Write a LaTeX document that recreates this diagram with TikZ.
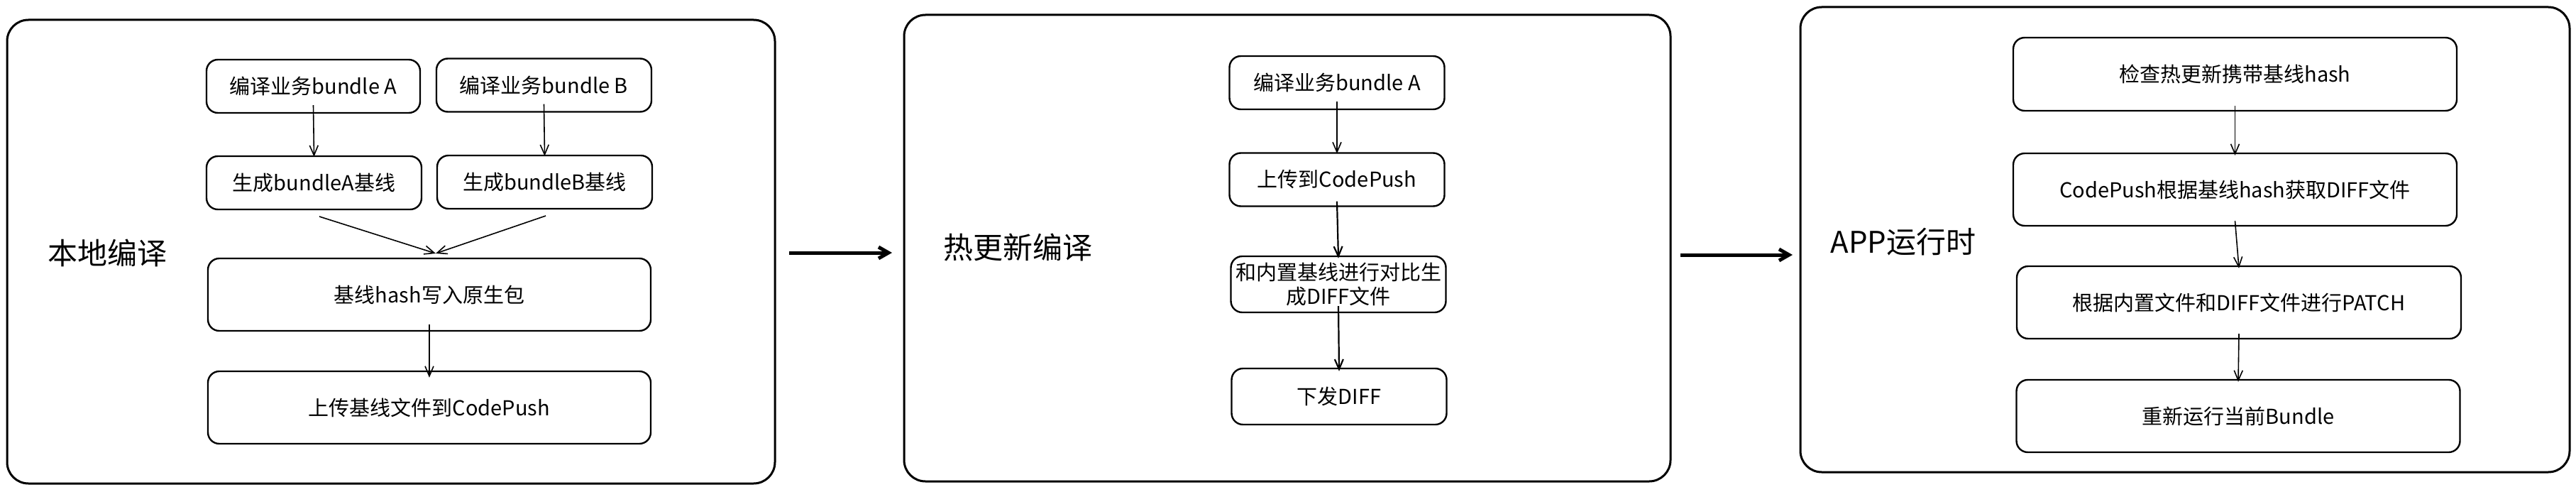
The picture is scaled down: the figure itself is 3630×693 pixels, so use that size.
\documentclass[tikz,border=0pt]{standalone}
\usepackage{fontspec}
\setmainfont{Noto Sans CJK SC}
\usetikzlibrary{arrows.meta}
\begin{document}
\begin{tikzpicture}[x=1pt,y=-1pt,
  panel/.style={draw,line width=3pt,rounded corners=30pt},
  stepbox/.style={draw,line width=2.4pt,rounded corners=16pt,font=\fontsize{29}{34}\selectfont,align=center,inner sep=2pt},
  title/.style={font=\fontsize{42}{48}\selectfont,anchor=west},
  arr/.style={-{Straight Barb[length=14pt,width=12pt]},line width=1.6pt},
  bigarr/.style={-{Straight Barb[length=14pt,width=16pt]},line width=5pt}]
\useasboundingbox (0,0) rectangle (3630,693);
% panel 1
\draw[panel] (10,28) rectangle (1092,681);
\node[title] (t1) at (64,356) {本地编译};
\node[stepbox,minimum width=301pt,minimum height=75pt] (a1) at (441.5,121.5) {编译业务bundle A};
\node[stepbox,minimum width=303pt,minimum height=75pt] (b1) at (766.5,120) {编译业务bundle B};
\node[stepbox,minimum width=303pt,minimum height=75pt] (a2) at (442.5,257.5) {生成bundleA基线};
\node[stepbox,minimum width=303pt,minimum height=75pt] (b2) at (767.5,256.5) {生成bundleB基线};
\node[stepbox,minimum width=624pt,minimum height=102pt] (h1) at (605,415) {基线hash写入原生包};
\node[stepbox,minimum width=624pt,minimum height=102pt] (u1) at (605,574) {上传基线文件到CodePush};
\draw[arr] ([yshift=12pt]a1.south) -- ([yshift=-2pt]a2.north);
\draw[arr] ([yshift=12pt]b1.south) -- ([yshift=-2pt]b2.north);
\coordinate (m1) at (614,357);
\draw[arr] (450,305) -- (m1);
\draw[arr] (769,304) -- (m1);
\draw[arr] ([yshift=10pt]h1.south) -- ([yshift=-10pt]u1.north);
% arrow 1->2
\coordinate (p1) at (1112,356);
\coordinate (p2) at (1257,356);
\draw[bigarr] (p1) -- (p2);
% panel 2
\draw[panel] (1274,21) rectangle (2354,678);
\node[title] (t2) at (1326,348) {热更新编译};
\node[stepbox,minimum width=303pt,minimum height=75pt] (c1) at (1884,116.5) {编译业务bundle A};
\node[stepbox,minimum width=303pt,minimum height=75pt] (c2) at (1884,253) {上传到CodePush};
\node[stepbox,minimum width=303pt,minimum height=79pt] (c3) at (1886,400.5) {和内置基线进行对比生\\成DIFF文件};
\node[stepbox,minimum width=303pt,minimum height=79pt] (c4) at (1887,558.5) {下发DIFF};
\draw[arr] ([yshift=12pt]c1.south) -- ([yshift=-2pt]c2.north);
\draw[arr,line width=2.2pt] ([yshift=8pt]c2.south) -- ([yshift=-4pt]c3.north);
\draw[arr,line width=2.2pt] ([yshift=10pt]c3.south) -- ([yshift=-5pt]c4.north);
% arrow 2->3
\coordinate (q1) at (2368,359);
\coordinate (q2) at (2526,359);
\draw[bigarr] (q1) -- (q2);
% panel 3
\draw[panel] (2537,10) rectangle (3621,665);
\node[title] (t3) at (2576,341) {APP运行时};
\node[stepbox,minimum width=625pt,minimum height=103pt] (d1) at (3149.5,104.5) {检查热更新携带基线hash};
\node[stepbox,minimum width=625pt,minimum height=102pt] (d2) at (3149.5,267) {CodePush根据基线hash获取DIFF文件};
\node[stepbox,minimum width=626pt,minimum height=102pt] (d3) at (3155,426) {根据内置文件和DIFF文件进行PATCH};
\node[stepbox,minimum width=625pt,minimum height=102pt] (d4) at (3154,586) {重新运行当前Bundle};
\draw[arr] ([yshift=8pt]d1.south) -- ([yshift=-4pt]d2.north);
\draw[arr] ([yshift=8pt]d2.south) -- ([yshift=-4pt]d3.north);
\draw[arr] ([yshift=8pt]d3.south) -- ([yshift=-4pt]d4.north);
\end{tikzpicture}
\end{document}
